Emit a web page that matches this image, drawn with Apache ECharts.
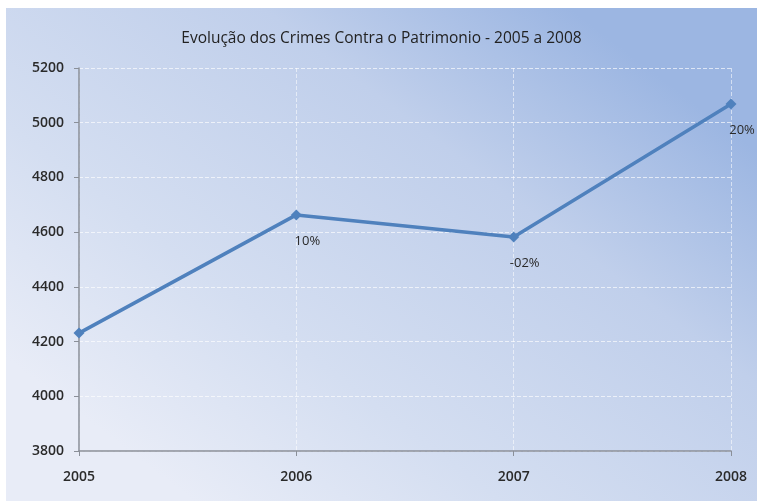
<!DOCTYPE html>
<html>
<head>
<meta charset="utf-8">
<script src="https://cdn.jsdelivr.net/npm/echarts@6/dist/echarts.min.js"></script>
<style>
  html, body { margin: 0; padding: 0; background: #ffffff; }
  #chart { position: absolute; left: 6px; top: 8px; width: 751px; height: 493px; }
</style>
</head>
<body>
<div id="chart"></div>
<script>
// Crimes contra o patrimônio por ano
const years = ['2005', '2006', '2007', '2008'];
const crimes = [4231, 4663, 4582, 5068];
const variation = ['', '10%', '-02%', '20%'];
const yTicks = { min: 3800, max: 5200, step: 200 };

const chart = echarts.init(document.getElementById('chart'));
const font = '"Open Sans", "DejaVu Sans", sans-serif';

chart.setOption({
  backgroundColor: new echarts.graphic.LinearGradient(0.75, 0, 0.25, 1, [
    { offset: 0, color: '#9cb6e2' },
    { offset: 0.3, color: '#c0cfeb' },
    { offset: 0.7, color: '#d4def1' },
    { offset: 1, color: '#e8ecf7' }
  ]),
  animation: false,
  title: {
    text: 'Evolução dos Crimes Contra o Patrimonio - 2005 a 2008',
    left: 'center',
    top: 18,
    textStyle: { fontFamily: font, fontSize: 15.5, fontWeight: 'normal', color: '#222' }
  },
  grid: { left: 73, top: 60, width: 652, height: 383 },
  xAxis: {
    type: 'category',
    data: years,
    boundaryGap: false,
    axisLine: { lineStyle: { color: '#8a8f98', width: 1.5 } },
    axisTick: { show: true, length: 5, lineStyle: { color: '#8a8f98' } },
    axisLabel: { margin: 19, fontFamily: font, fontSize: 14, fontWeight: 600, color: '#2a2a2a' },
    splitLine: { show: true, lineStyle: { color: 'rgba(255,255,255,0.55)', type: 'dashed', width: 1 } }
  },
  yAxis: {
    type: 'value',
    min: yTicks.min,
    max: yTicks.max,
    interval: yTicks.step,
    axisLine: { show: true, lineStyle: { color: '#8a8f98', width: 1.5 } },
    axisTick: { show: true, length: 5, lineStyle: { color: '#8a8f98' } },
    axisLabel: { margin: 15, fontFamily: font, fontSize: 14, fontWeight: 600, color: '#2a2a2a', formatter: v => String(v) },
    splitLine: { show: true, lineStyle: { color: 'rgba(255,255,255,0.65)', type: 'dashed', width: 1 } }
  },
  series: [{
    type: 'line',
    data: crimes,
    symbol: 'diamond',
    symbolSize: 11,
    lineStyle: { color: '#4f81bd', width: 3.5 },
    itemStyle: { color: '#4f81bd' },
    label: {
      show: true,
      position: 'bottom',
      distance: 14,
      offset: [11, 0],
      fontFamily: font,
      fontSize: 13,
      color: '#2a2a2a',
      formatter: p => variation[p.dataIndex]
    }
  }]
});
</script>
</body>
</html>
